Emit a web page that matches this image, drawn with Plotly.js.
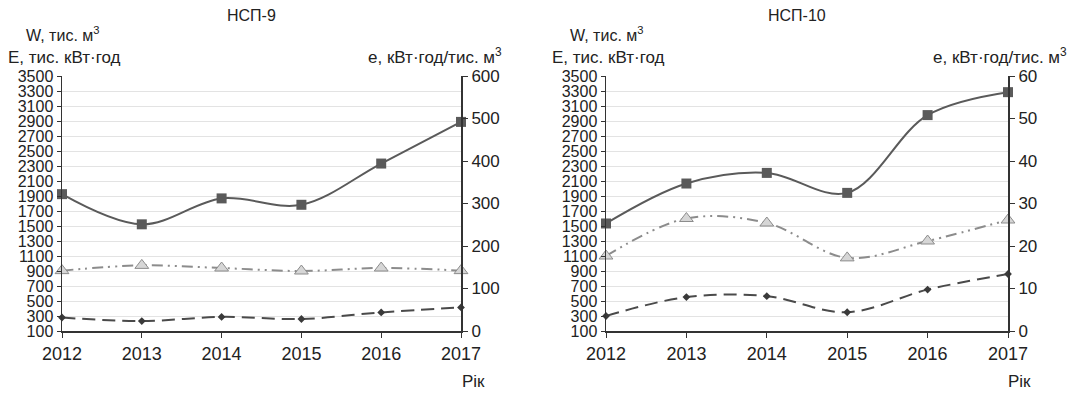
<!DOCTYPE html>
<html>
<head>
<meta charset="utf-8">
<script src="https://cdn.plot.ly/plotly-3.0.1.min.js"></script>
<style>
html,body{margin:0;padding:0;background:#fff;}
#chart{width:1074px;height:393px;}
</style>
</head>
<body>
<div id="chart"></div>
<script>
// Data
var years = [2012, 2013, 2014, 2015, 2016, 2017];
var yearLabels = ['2012', '2013', '2014', '2015', '2016', '2017'];

// НСП-9
var nsp9_e = [322, 251, 312, 297, 394, 492];      // e, кВт·год/тис. м3 (right axis)
var nsp9_W = [905, 975, 940, 900, 940, 905];      // W, тис. м3
var nsp9_E = [280, 232, 288, 260, 348, 414];      // E, тис. кВт·год

// НСП-10
var nsp10_e = [25.3, 34.7, 37.2, 32.5, 50.8, 56.2];
var nsp10_W = [1100, 1600, 1540, 1075, 1300, 1580];
var nsp10_E = [300, 552, 565, 350, 652, 860];

var leftTicks = [];
for (var t = 100; t <= 3500; t += 200) leftTicks.push(t);

var fontFam = 'Liberation Sans, Arial, sans-serif';
var txt = '#222';

function sqTrace(y, xa, ya) {
  return {x: years, y: y, xaxis: xa, yaxis: ya, type: 'scatter', mode: 'lines+markers',
    line: {color: '#5a5a5a', width: 2, shape: 'spline', smoothing: 1},
    marker: {symbol: 'square', size: 10, color: '#5a5a5a'}, cliponaxis: false, showlegend: false};
}
function triTrace(y, xa, ya) {
  return {x: years, y: y, xaxis: xa, yaxis: ya, type: 'scatter', mode: 'lines+markers',
    line: {color: '#8c8c8c', width: 2, shape: 'spline', smoothing: 1, dash: '11px,5px,2px,5px,2px,5px'},
    marker: {symbol: 'triangle-up', size: 12, color: '#d6d6d6', line: {color: '#8c8c8c', width: 1}},
    cliponaxis: false, showlegend: false};
}
function diaTrace(y, xa, ya) {
  return {x: years, y: y, xaxis: xa, yaxis: ya, type: 'scatter', mode: 'lines+markers',
    line: {color: '#4a4a4a', width: 2, shape: 'spline', smoothing: 1, dash: '13px,7px'},
    marker: {symbol: 'diamond', size: 6, color: '#3a3a3a'}, cliponaxis: false, showlegend: false};
}

var data = [
  triTrace(nsp9_W, 'x', 'y'),
  diaTrace(nsp9_E, 'x', 'y'),
  sqTrace(nsp9_e, 'x', 'y2'),
  triTrace(nsp10_W, 'x2', 'y3'),
  diaTrace(nsp10_E, 'x2', 'y3'),
  sqTrace(nsp10_e, 'x2', 'y4')
];

function xAxis(domain, anchor) {
  return {domain: domain, anchor: anchor, range: [2012, 2017], tickvals: years, ticktext: yearLabels,
    showline: true, linecolor: '#333', linewidth: 2, ticks: 'outside', ticklen: 5, tickcolor: '#333',
    showgrid: false, zeroline: false, fixedrange: true,
    tickfont: {family: fontFam, size: 18, color: txt}};
}
function yLeft(anchor) {
  return {anchor: anchor, range: [100, 3500], tickvals: leftTicks, ticktext: leftTicks.map(String),
    showline: true, linecolor: '#333', linewidth: 1.5, ticks: 'outside', ticklen: 4, tickcolor: '#333',
    showgrid: true, gridcolor: '#e3e3e3', gridwidth: 1, zeroline: false,
    tickfont: {family: fontFam, size: 16, color: txt}, ticklabelstandoff: 0};
}
function yRight(anchor, overlay, max, dt) {
  return {anchor: anchor, overlaying: overlay, side: 'right', range: [0, max], dtick: dt, tick0: 0,
    showline: true, linecolor: '#333', linewidth: 2, ticks: 'outside', ticklen: 5, tickcolor: '#333',
    showgrid: false, zeroline: false,
    tickfont: {family: fontFam, size: 17, color: txt}};
}

var L = 62, R = 1008, T = 76, B = 331;
var W = R - L, H = B - T;
function px(x) { return (x - L) / W; }
function py(y) { return (B - y) / H; }

function ann(text, x, y, xanchor, size) {
  return {text: text, xref: 'paper', yref: 'paper', x: px(x), y: py(y), xanchor: xanchor, yanchor: 'middle',
    showarrow: false, font: {family: fontFam, size: size, color: txt}};
}

var annotations = [
  ann('НСП-9', 251, 16, 'center', 16),
  ann('W, тис. м<sup>3</sup>', 24, 34, 'left', 16),
  ann('E, тис. кВт·год', 6, 57, 'left', 17),
  ann('e, кВт·год/тис. м<sup>3</sup>', 504, 56, 'right', 17),
  ann('Рік', 473, 381, 'center', 17),
  ann('НСП-10', 797, 16, 'center', 16),
  ann('W, тис. м<sup>3</sup>', 568, 34, 'left', 16),
  ann('E, тис. кВт·год', 550, 57, 'left', 17),
  ann('e, кВт·год/тис. м<sup>3</sup>', 1069, 56, 'right', 17),
  ann('Рік', 1019, 381, 'center', 17)
];

var layout = {
  width: 1074, height: 393,
  margin: {l: L, r: 1074 - R, t: T, b: 393 - B, pad: 0},
  paper_bgcolor: '#fff', plot_bgcolor: '#fff',
  font: {family: fontFam, color: txt},
  xaxis: xAxis([0, px(461)], 'y'),
  xaxis2: xAxis([px(606), 1], 'y3'),
  yaxis: yLeft('x'),
  yaxis2: yRight('x', 'y', 600, 100),
  yaxis3: yLeft('x2'),
  yaxis4: yRight('x2', 'y3', 60, 10),
  annotations: annotations,
  showlegend: false
};

Plotly.newPlot('chart', data, layout, {displayModeBar: false, staticPlot: true});
</script>
</body>
</html>
